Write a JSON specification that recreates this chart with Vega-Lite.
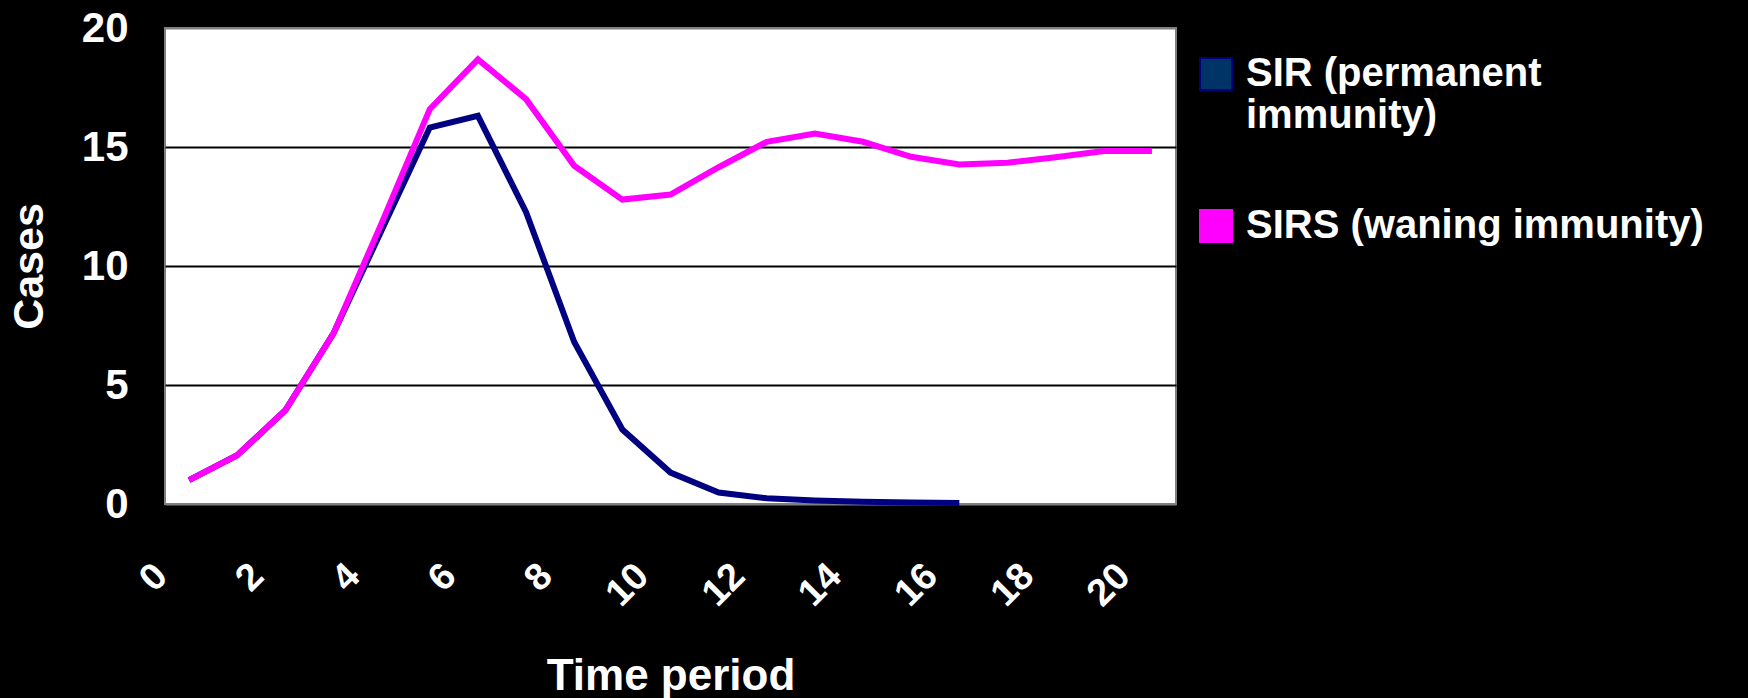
{
  "$schema": "https://vega.github.io/schema/vega-lite/v6.json",
  "width": 1011,
  "height": 476,
  "autosize": {"type": "none"},
  "padding": {"left": 165, "top": 28, "right": 572, "bottom": 194},
  "background": "#000000",
  "config": {
    "font": "Liberation Sans",
    "view": {"fill": "#ffffff", "stroke": "#808080", "strokeWidth": 2}
  },
  "data": {
    "values": [
      {"t": 0, "series": "SIR", "cases": 1.0},
      {"t": 1, "series": "SIR", "cases": 2.05},
      {"t": 2, "series": "SIR", "cases": 3.94},
      {"t": 3, "series": "SIR", "cases": 7.17},
      {"t": 4, "series": "SIR", "cases": 11.5},
      {"t": 5, "series": "SIR", "cases": 15.82},
      {"t": 6, "series": "SIR", "cases": 16.31},
      {"t": 7, "series": "SIR", "cases": 12.26},
      {"t": 8, "series": "SIR", "cases": 6.81},
      {"t": 9, "series": "SIR", "cases": 3.13},
      {"t": 10, "series": "SIR", "cases": 1.32},
      {"t": 11, "series": "SIR", "cases": 0.48},
      {"t": 12, "series": "SIR", "cases": 0.24},
      {"t": 13, "series": "SIR", "cases": 0.15},
      {"t": 14, "series": "SIR", "cases": 0.09},
      {"t": 15, "series": "SIR", "cases": 0.06},
      {"t": 16, "series": "SIR", "cases": 0.04},
      {"t": 0, "series": "SIRS", "cases": 1.0},
      {"t": 1, "series": "SIRS", "cases": 2.05},
      {"t": 2, "series": "SIRS", "cases": 3.94},
      {"t": 3, "series": "SIRS", "cases": 7.17},
      {"t": 4, "series": "SIRS", "cases": 11.8},
      {"t": 5, "series": "SIRS", "cases": 16.59},
      {"t": 6, "series": "SIRS", "cases": 18.68},
      {"t": 7, "series": "SIRS", "cases": 17.01},
      {"t": 8, "series": "SIRS", "cases": 14.21},
      {"t": 9, "series": "SIRS", "cases": 12.79},
      {"t": 10, "series": "SIRS", "cases": 13.0},
      {"t": 11, "series": "SIRS", "cases": 14.15},
      {"t": 12, "series": "SIRS", "cases": 15.22},
      {"t": 13, "series": "SIRS", "cases": 15.57},
      {"t": 14, "series": "SIRS", "cases": 15.22},
      {"t": 15, "series": "SIRS", "cases": 14.59},
      {"t": 16, "series": "SIRS", "cases": 14.27},
      {"t": 17, "series": "SIRS", "cases": 14.34},
      {"t": 18, "series": "SIRS", "cases": 14.57},
      {"t": 19, "series": "SIRS", "cases": 14.83},
      {"t": 20, "series": "SIRS", "cases": 14.83}
    ]
  },
  "encoding": {
    "x": {
      "field": "t",
      "type": "ordinal",
      "sort": "ascending",
      "scale": {"padding": 0.5},
      "axis": {
        "title": "Time period",
        "values": [0, 2, 4, 6, 8, 10, 12, 14, 16, 18, 20],
        "labelAngle": -45,
        "labelAlign": "right",
        "labelBaseline": "middle",
        "labelOffset": -28,
        "labelPadding": 66,
        "ticks": false,
        "domain": false,
        "grid": false,
        "labelColor": "#ffffff",
        "labelFont": "Liberation Sans",
        "labelFontWeight": "bold",
        "labelFontSize": 38,
        "titleColor": "#ffffff",
        "titleFont": "Liberation Sans",
        "titleFontWeight": "bold",
        "titleFontSize": 44,
        "titlePadding": 41
      }
    },
    "y": {
      "field": "cases",
      "type": "quantitative",
      "scale": {"domain": [0, 20], "nice": false},
      "axis": {
        "title": "Cases",
        "values": [0, 5, 10, 15, 20],
        "ticks": false,
        "domain": false,
        "grid": true,
        "gridColor": {"condition": {"test": "datum.value == 0 || datum.value == 20", "value": "#808080"}, "value": "#000000"},
        "gridWidth": 2,
        "gridOpacity": 1,
        "labelPadding": 37,
        "labelColor": "#ffffff",
        "labelFont": "Liberation Sans",
        "labelFontWeight": "bold",
        "labelFontSize": 42,
        "titleColor": "#ffffff",
        "titleFont": "Liberation Sans",
        "titleFontWeight": "bold",
        "titleFontSize": 43,
        "titlePadding": 30
      }
    }
  },
  "layer": [
    {
      "mark": {"type": "point", "shape": "square", "filled": true, "fillOpacity": 0, "strokeWidth": 0, "size": 4},
      "encoding": {
        "fill": {
          "field": "series",
          "type": "nominal",
          "scale": {"domain": ["SIR", "SIRS"], "range": ["#003366", "#ff00ff"]},
          "legend": {
            "title": null,
            "orient": "none",
            "legendX": 1031,
            "legendY": 26,
            "padding": 0,
            "symbolType": "square",
            "symbolSize": 1024,
            "symbolStrokeWidth": 2,
            "symbolStrokeColor": "#ffffff",
            "labelExpr": "datum.label == 'SIR' ? ['SIR (permanent', 'immunity)'] : 'SIRS (waning immunity)'",
            "labelColor": "#ffffff",
            "labelFont": "Liberation Sans",
            "labelFontWeight": "bold",
            "labelFontSize": 40,
            "labelLineHeight": 52,
            "labelLimit": 0,
            "labelOffset": 10,
            "rowPadding": 70,
            "encoding": {
              "symbols": {
                "stroke": {"value": "#ffffff"},
                "strokeWidth": {"value": 2},
                "fillOpacity": {"value": 1}
              }
            }
          }
        }
      }
    },
    {
      "mark": {"type": "line", "strokeWidth": 6, "strokeJoin": "miter", "strokeCap": "butt"},
      "encoding": {
        "color": {
          "field": "series",
          "type": "nominal",
          "scale": {"domain": ["SIR", "SIRS"], "range": ["#000080", "#ff00ff"]},
          "legend": null
        }
      }
    }
  ]
}
